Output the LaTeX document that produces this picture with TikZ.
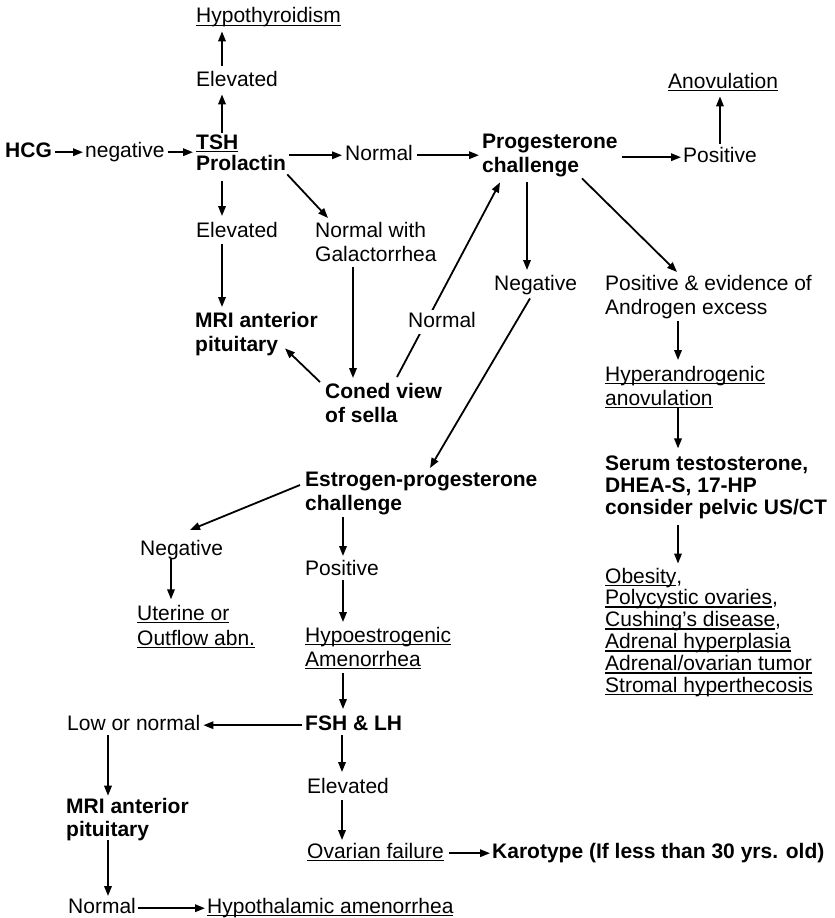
\documentclass[tikz,border=0pt]{standalone}
\usepackage{fontspec}
\setmainfont{Liberation Sans}
\usetikzlibrary{arrows.meta,calc}
\newcommand\ml[1]{\begin{tabular}[t]{@{}l@{}}#1\end{tabular}}
\newcommand\ulx[1]{\setbox0=\hbox{#1}\rlap{\rule[-3.4pt]{\wd0}{1.8pt}}\box0}
\begin{document}
\begin{tikzpicture}[x=1pt,y=-1pt,
  txt/.style={anchor=base west,inner sep=0pt,font=\fontsize{21}{24}\selectfont},
  bf/.style={txt,font=\fontsize{21}{24}\selectfont\bfseries},
  arr/.style={line width=1.8pt,-{Triangle[length=10pt,width=7.5pt]}}]
\useasboundingbox (0,0) rectangle (835,918);
% nodes
\node[bf] (hcg) at (5,157) {\ml{HCG}};
\node[txt] (neg) at (85,157) {\ml{negative}};
\node[bf,font=\fontsize{21}{20}\selectfont\bfseries] (tsh) at (196,149) {\ml{\ulx{TSH}\\Prolactin}};
\node[txt] (elev1) at (196,86) {\ml{Elevated}};
\node[txt] (hypo) at (196,23) {\ml{\ulx{Hypothyroidism}}};
\node[txt] (normal1) at (345,160) {\ml{Normal}};
\node[bf] (prog) at (482,148) {\ml{Progesterone\\challenge}};
\node[txt] (pos1) at (683,162) {\ml{Positive}};
\node[txt] (anov) at (668,88) {\ml{\ulx{Anovulation}}};
\node[txt] (elevL) at (196,237) {\ml{Elevated}};
\node[txt] (nwg) at (315,237) {\ml{Normal with\\Galactorrhea}};
\node[txt] (neg1) at (494,290) {\ml{Negative}};
\node[txt] (posev) at (605,290) {\ml{Positive \& evidence of\\Androgen excess}};
\node[bf] (mri1) at (195,327) {\ml{MRI anterior\\pituitary}};
\node[bf] (coned) at (325,398) {\ml{Coned view\\of sella}};
\node[txt] (hyper) at (605,381) {\ml{\ulx{Hyperandrogenic}\\\ulx{anovulation}}};
\node[bf] (estr) at (305,486) {\ml{Estrogen-progesterone\\challenge}};
\node[bf,font=\fontsize{21}{22}\selectfont\bfseries] (serum) at (605,470) {\ml{Serum testosterone,\\DHEA-S, 17-HP\\consider pelvic US/CT}};
\node[txt] (neg2) at (140,555) {\ml{Negative}};
\node[txt] (pos2) at (305,575) {\ml{Positive}};
\node[txt,font=\fontsize{21}{25}\selectfont] (uter) at (137,620) {\ml{\ulx{Uterine or}\\\ulx{Outflow abn.}}};
\node[txt] (hypoe) at (305,642) {\ml{\ulx{Hypoestrogenic}\\\ulx{Amenorrhea}}};
\node[txt,font=\fontsize{21}{21.8}\selectfont] (list) at (605,583) {\ml{\ulx{Obesity},\\\ulx{Polycystic ovaries},\\\ulx{Cushing's disease},\\\ulx{Adrenal hyperplasia}\\\ulx{Adrenal/ovarian tumor}\\\ulx{Stromal hyperthecosis}}};
\node[txt] (low) at (67,730) {\ml{Low or normal}};
\node[bf] (fsh) at (305,730) {\ml{FSH \& LH}};
\node[bf,font=\fontsize{21}{23}\selectfont\bfseries] (mri2) at (66,813) {\ml{MRI anterior\\pituitary}};
\node[txt] (elev3) at (307,793) {\ml{Elevated}};
\node[txt] (ovar) at (307,858) {\ml{\ulx{Ovarian failure}}};
\node[bf] (karo) at (492,858) {\ml{Karotype (If less than 30 yrs. old)}};
\node[txt] (normal3) at (68,913) {\ml{Normal}};
\node[txt] (hypoth) at (207,913) {\ml{\ulx{Hypothalamic amenorrhea}}};
% connectors
\draw[arr] ([xshift=3pt]hcg.east) -- ([xshift=-2pt]neg.west);
\draw[arr] ([xshift=3pt]neg.east) -- ([xshift=-3pt]neg.east -| tsh.west);
\draw[arr] ($(tsh.north west)+(26,-1)$) -- ($(elev1.south west)+(26,1)$);
\draw[arr] ($(elev1.north west)+(26,-3)$) -- ($(hypo.south west)+(26,1)$);
\draw[arr] ($(tsh.east)+(3,0)$) -- ($(tsh.east -| normal1.west)+(-3,0)$);
\draw[arr] ($(normal1.east)+(4,0)$) -- ($(normal1.east -| prog.west)+(-3,0)$);
\draw[arr] ($(pos1.west -| prog.east)+(4,0)$) -- ($(pos1.west)+(-2,0)$);
\draw[arr] ($(pos1.north)+(0,-1)$) -- ($(pos1.north |- anov.south)+(0,1)$);
\draw[arr] ($(tsh.south west)+(26,5)$) -- ($(elevL.north west)+(26,-4)$);
\draw[arr] ($(tsh.south east)+(1,-2)$) -- ($(nwg.north west)+(13,-2)$);
\draw[arr] ($(elevL.south west)+(26,0)$) -- ($(mri1.north west)+(27,-3)$);
\draw[arr] ($(nwg.south west)+(38,-1)$) -- ($(coned.north west)+(28,-3)$);
\draw[arr] ($(coned.north west)+(-5,1)$) -- ($(mri1.south west)+(90,-10)$);
\draw[arr] ($(coned.north west)+(72,-4)$) -- ($(prog.south west)+(18,3)$);
\draw[arr] ($(prog.south west)+(45,3)$) -- ($(neg1.north west)+(33,-3)$);
\draw[arr] ($(prog.south west)+(100,-1)$) -- ($(posev.north west)+(72,-1)$);
\draw[arr] ($(neg1.south west)+(36,1)$) -- ($(estr.north west)+(125,-1)$);
\draw[arr] ($(posev.south west)+(73,0)$) -- ($(hyper.north west)+(73,-4)$);
\draw[arr] ($(hyper.south west)+(73,-5)$) -- ($(serum.north west)+(73,-6)$);
\draw[arr] ($(serum.south west)+(73,4)$) -- ($(list.north west)+(73,-4)$);
\draw[arr] ($(estr.north west)+(-5,16)$) -- ($(neg2.north west)+(50,-8)$);
\draw[arr] ($(estr.south west)+(38,0)$) -- ($(pos2.north west)+(38,-2)$);
\draw[arr] ($(neg2.south west)+(31,-3)$) -- ($(uter.north west)+(34,-3)$);
\draw[arr] ($(pos2.south west)+(38,-2)$) -- ($(hypoe.north west)+(38,-3)$);
\draw[arr] ($(hypoe.south west)+(38,0)$) -- ($(fsh.north west)+(38,-4)$);
\draw[arr] ($(fsh.west)+(-3,0)$) -- ($(low.east)+(3,0)$);
\draw[arr] ($(low.south west)+(41,-2)$) -- ($(mri2.north west)+(42,-1)$);
\draw[arr] ($(mri2.south west)+(42,-3)$) -- ($(normal3.north west)+(40,0)$);
\draw[arr] ($(normal3.east)+(2,0)$) -- ($(hypoth.west)+(-2,0)$);
\draw[arr] ($(fsh.south west)+(37,-2)$) -- ($(elev3.north west)+(35,-4)$);
\draw[arr] ($(elev3.south west)+(35,0)$) -- ($(ovar.north west)+(35,-1)$);
\draw[arr] ($(ovar.east)+(5,0)$) -- ($(karo.west)+(-2,0)$);
% label sitting on the diagonal connector
\node[txt,fill=white] (normal2) at (408,327) {\ml{Normal}};
\end{tikzpicture}
\end{document}
